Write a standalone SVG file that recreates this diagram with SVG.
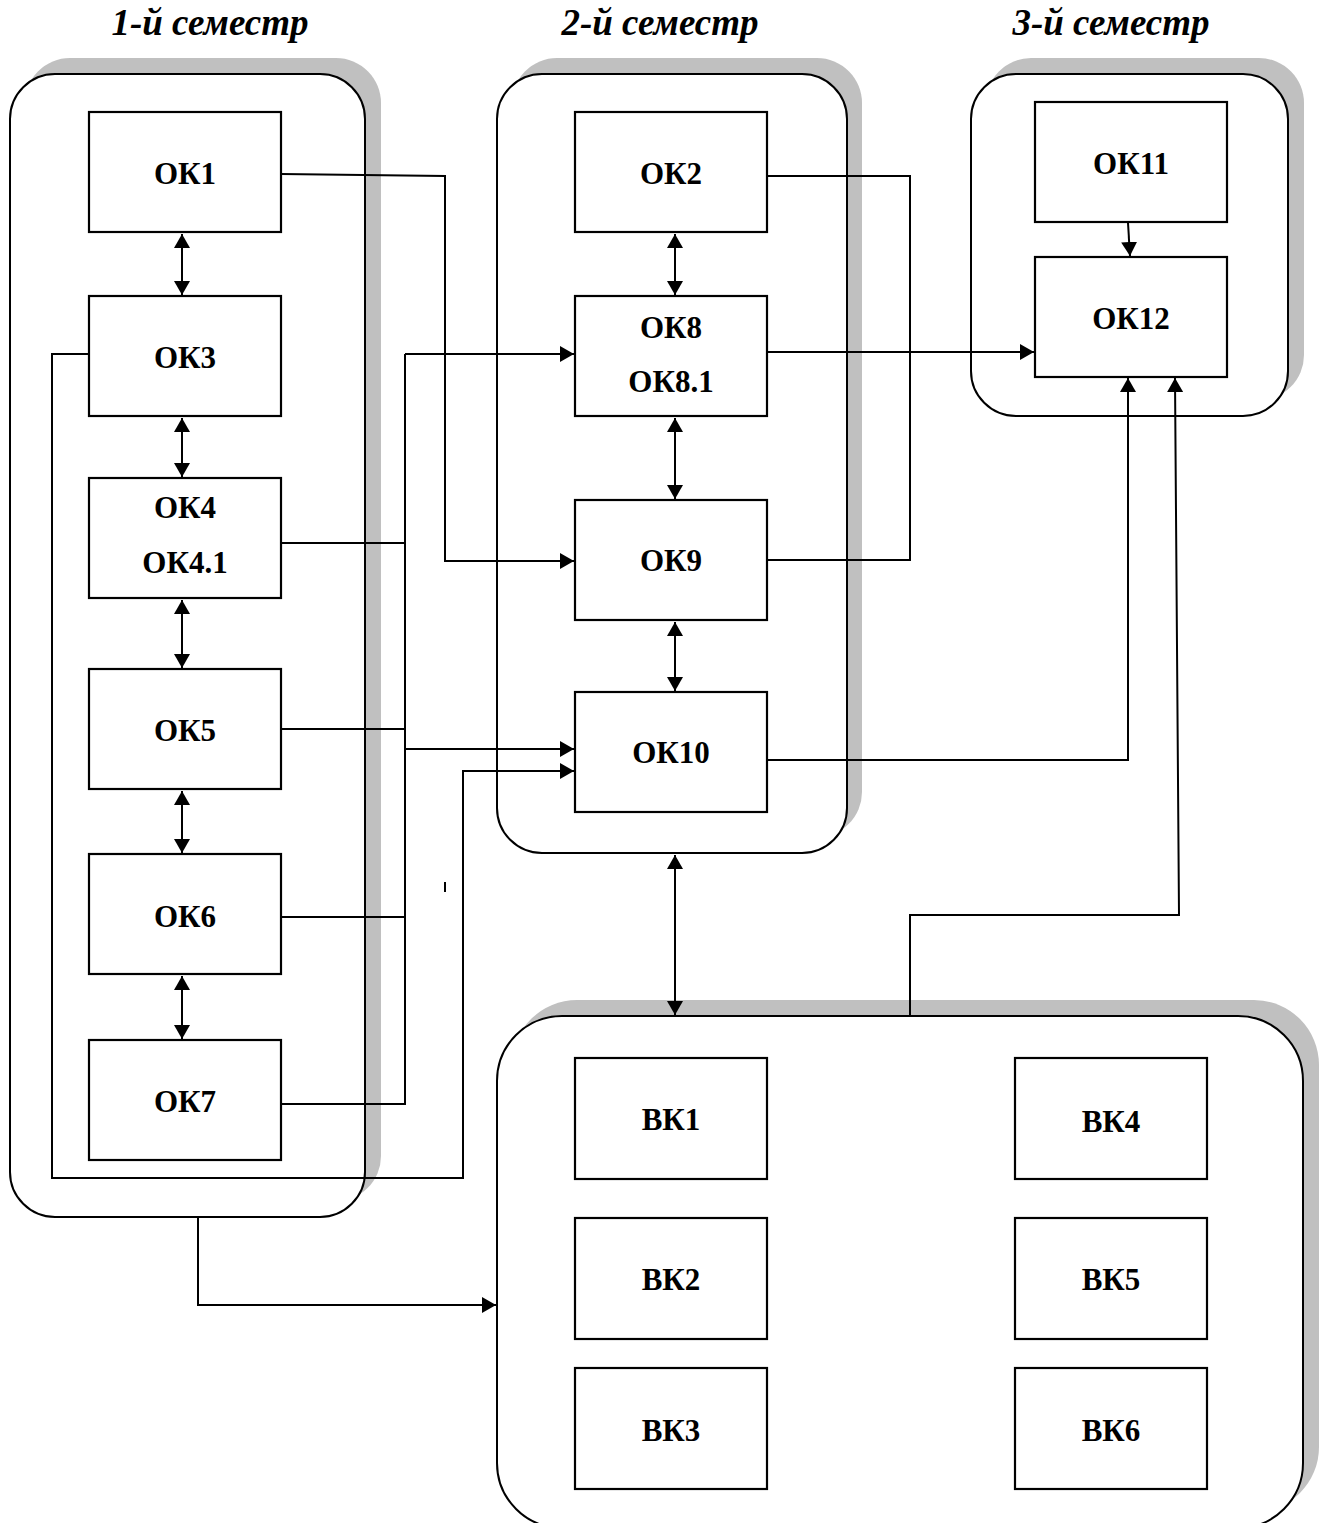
<svg xmlns="http://www.w3.org/2000/svg" width="1320" height="1523" viewBox="0 0 1320 1523">
<style>
.shadow{fill:#c0c0c0;stroke:none}
.cont{fill:#fff;stroke:#000;stroke-width:2}
.box{fill:#fff;stroke:#000;stroke-width:2.2}
.lbl{font-family:"Liberation Serif","Times New Roman",serif;font-weight:bold;font-size:31px;text-anchor:middle;fill:#000}
.title{font-family:"Liberation Serif","Times New Roman",serif;font-weight:bold;font-style:italic;font-size:37px;text-anchor:middle;fill:#000}
.ln{fill:none;stroke:#000;stroke-width:2}
.ar{fill:none;stroke:#000;stroke-width:2;marker-end:url(#ah)}
.dar{fill:none;stroke:#000;stroke-width:2;marker-start:url(#ahs);marker-end:url(#ah)}
</style>
<defs>
<marker id="ah" viewBox="0 0 14 16" refX="14" refY="8" markerWidth="14" markerHeight="16" markerUnits="userSpaceOnUse" orient="auto"><path d="M0,0 L14,8 L0,16 Z" fill="#000"/></marker>
<marker id="ahs" viewBox="0 0 14 16" refX="0" refY="8" markerWidth="14" markerHeight="16" markerUnits="userSpaceOnUse" orient="auto"><path d="M14,0 L0,8 L14,16 Z" fill="#000"/></marker>
</defs>
<rect width="1320" height="1523" fill="#fff"/>

<g id="titles">
<text class="title" x="210" y="35">1-й семестр</text>
<text class="title" x="660" y="35">2-й семестр</text>
<text class="title" x="1111" y="35">3-й семестр</text>
</g>

<g id="semester1">
<rect class="shadow" x="25" y="58" width="356" height="1143" rx="45"/>
<rect class="cont" x="10" y="74" width="355" height="1143" rx="45"/>
</g>
<g id="semester2">
<rect class="shadow" x="512" y="58" width="350" height="779" rx="45"/>
<rect class="cont" x="497" y="74" width="350" height="779" rx="45"/>
</g>
<g id="semester3">
<rect class="shadow" x="986" y="58" width="318" height="342" rx="45"/>
<rect class="cont" x="971" y="74" width="317" height="342" rx="45"/>
</g>
<g id="elective">
<rect class="shadow" x="512" y="1000" width="807" height="512" rx="65"/>
<rect class="cont" x="497" y="1016" width="806" height="512" rx="65"/>
</g>

<g id="connectors">
<line class="dar" x1="182" y1="234" x2="182" y2="295"/>
<line class="dar" x1="182" y1="418" x2="182" y2="477"/>
<line class="dar" x1="182" y1="600" x2="182" y2="668"/>
<line class="dar" x1="182" y1="791" x2="182" y2="853"/>
<line class="dar" x1="182" y1="976" x2="182" y2="1039"/>
<line class="dar" x1="675" y1="234" x2="675" y2="295"/>
<line class="dar" x1="675" y1="418" x2="675" y2="499"/>
<line class="dar" x1="675" y1="622" x2="675" y2="691"/>
<polyline class="ar" points="281,174 445,176 445,561 574,561"/>
<polyline class="ln" points="767,176 910,176 910,560 767,560"/>
<line class="ar" x1="767" y1="352" x2="1034" y2="352"/>
<line class="ar" x1="1128" y1="223" x2="1130" y2="256"/>
<polyline class="ar" points="767,760 1128,760 1128,378"/>
<polyline class="ar" points="910,1016 910,915 1179,915 1175,378"/>
<line class="dar" x1="675" y1="855" x2="675" y2="1015"/>
<polyline class="ar" points="198,1217 198,1305 496,1305"/>
<polyline class="ln" points="281,543 405,543"/>
<polyline class="ln" points="281,729 405,729"/>
<polyline class="ln" points="281,917 405,917"/>
<polyline class="ln" points="281,1104 405,1104 405,354"/>
<polyline class="ar" points="405,354 574,354"/>
<polyline class="ar" points="405,749 574,749"/>
<polyline class="ar" points="89,354 52,354 52,1178 463,1178 463,771 574,771"/>
<line class="ln" x1="445" y1="882" x2="445" y2="892"/>
</g>

<g id="OK1"><rect class="box" x="89" y="112" width="192" height="120"/><text class="lbl" x="185" y="184">ОК1</text></g>
<g id="OK3"><rect class="box" x="89" y="296" width="192" height="120"/><text class="lbl" x="185" y="368">ОК3</text></g>
<g id="OK4"><rect class="box" x="89" y="478" width="192" height="120"/><text class="lbl" x="185" y="518">ОК4</text><text class="lbl" x="185" y="573">ОК4.1</text></g>
<g id="OK5"><rect class="box" x="89" y="669" width="192" height="120"/><text class="lbl" x="185" y="741">ОК5</text></g>
<g id="OK6"><rect class="box" x="89" y="854" width="192" height="120"/><text class="lbl" x="185" y="927">ОК6</text></g>
<g id="OK7"><rect class="box" x="89" y="1040" width="192" height="120"/><text class="lbl" x="185" y="1112">ОК7</text></g>

<g id="OK2"><rect class="box" x="575" y="112" width="192" height="120"/><text class="lbl" x="671" y="184">ОК2</text></g>
<g id="OK8"><rect class="box" x="575" y="296" width="192" height="120"/><text class="lbl" x="671" y="338">ОК8</text><text class="lbl" x="671" y="392">ОК8.1</text></g>
<g id="OK9"><rect class="box" x="575" y="500" width="192" height="120"/><text class="lbl" x="671" y="571">ОК9</text></g>
<g id="OK10"><rect class="box" x="575" y="692" width="192" height="120"/><text class="lbl" x="671" y="763">ОК10</text></g>

<g id="OK11"><rect class="box" x="1035" y="102" width="192" height="120"/><text class="lbl" x="1131" y="174">ОК11</text></g>
<g id="OK12"><rect class="box" x="1035" y="257" width="192" height="120"/><text class="lbl" x="1131" y="329">ОК12</text></g>

<g id="VK1"><rect class="box" x="575" y="1058" width="192" height="121"/><text class="lbl" x="671" y="1130">ВК1</text></g>
<g id="VK2"><rect class="box" x="575" y="1218" width="192" height="121"/><text class="lbl" x="671" y="1290">ВК2</text></g>
<g id="VK3"><rect class="box" x="575" y="1368" width="192" height="121"/><text class="lbl" x="671" y="1441">ВК3</text></g>
<g id="VK4"><rect class="box" x="1015" y="1058" width="192" height="121"/><text class="lbl" x="1111" y="1132">ВК4</text></g>
<g id="VK5"><rect class="box" x="1015" y="1218" width="192" height="121"/><text class="lbl" x="1111" y="1290">ВК5</text></g>
<g id="VK6"><rect class="box" x="1015" y="1368" width="192" height="121"/><text class="lbl" x="1111" y="1441">ВК6</text></g>
</svg>
